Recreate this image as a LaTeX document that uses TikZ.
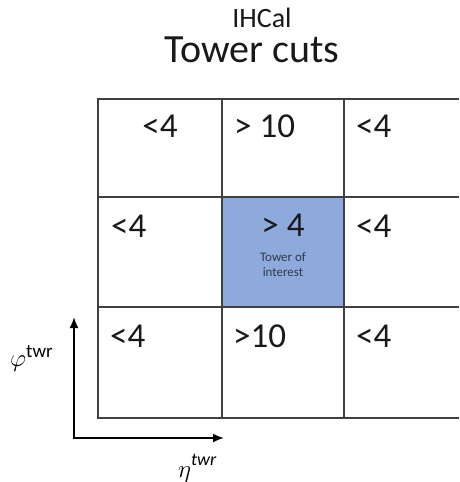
\documentclass[tikz,border=0pt]{standalone}
\usepackage{fontspec}
\setmainfont{Carlito}
\usetikzlibrary{arrows.meta}
\definecolor{gridc}{HTML}{404040}
\definecolor{towerblue}{HTML}{8EA9DB}
\definecolor{subtext}{HTML}{2F3B4C}
\begin{document}
\begin{tikzpicture}[x=1pt,y=-1pt,
  gridline/.style={draw=gridc,line width=1.8pt},
  val/.style={inner sep=0pt,font=\fontsize{35}{42}\selectfont,text=black!90},
  ttl/.style={inner sep=0pt,text=black!90},
  small/.style={inner sep=0pt,anchor=base,font=\fontsize{13}{15.5}\selectfont,text=subtext},
  axis/.style={line width=1.8pt,{Latex[length=11pt,width=9pt]}-{Latex[length=11pt,width=9pt]}}
]
\useasboundingbox (0,0) rectangle (459,482);
\fill[white] (0,0) rectangle (459,482);
% tower of interest
\fill[towerblue] (222,197) rectangle (344,307);
% grid
\draw[gridline] (459,99) -- (98,99) -- (98,418) -- (459,418);
\draw[gridline] (98,197) -- (459,197);
\draw[gridline] (98,307) -- (459,307);
\draw[gridline] (222,99) -- (222,418);
\draw[gridline] (344,99) -- (344,418);
% titles
\node[ttl,anchor=base,font=\fontsize{28}{32}\selectfont] (ihcal) at (262,27) {IHCal};
\node[ttl,anchor=base,font=\fontsize{40}{46}\selectfont] (title) at (252,62) {Tower cuts};
% row 1
\node[val,anchor=base] (c11) at (160,137) {<4};
\node[val,anchor=base west] (c12) at (234,137) {> 10};
\node[val,anchor=base west] (c13) at (356,137) {<4};
% row 2
\node[val,anchor=base west] (c21) at (111,237) {<4};
\node[val,anchor=base] (c22) at (283,236) {> 4};
\node[val,anchor=base west] (c23) at (356,237) {<4};
\node[small] (toi1) at (283,261) {Tower of};
\node[small] (toi2) at (283,276) {interest};
% row 3
\node[val,anchor=base west] (c31) at (110,347) {<4};
\node[val,anchor=base west] (c32) at (233,347) {>10};
\node[val,anchor=base west] (c33) at (356,347) {<4};
% axes
\coordinate (ytip) at (74,317);
\coordinate (xtip) at (224,438);
\draw[axis] (ytip) |- (xtip);
\node[anchor=base west,inner sep=0pt] (phi) at (10,366) {\fontsize{48}{52}\selectfont$\varphi$\raisebox{9pt}{\fontsize{19}{22}\selectfont twr}};
\node[anchor=base west,inner sep=0pt] (eta) at (178,477) {\fontsize{35}{40}\selectfont$\eta$\raisebox{12pt}{\fontsize{18}{22}\selectfont$\mathit{twr}$}};
\end{tikzpicture}
\end{document}
